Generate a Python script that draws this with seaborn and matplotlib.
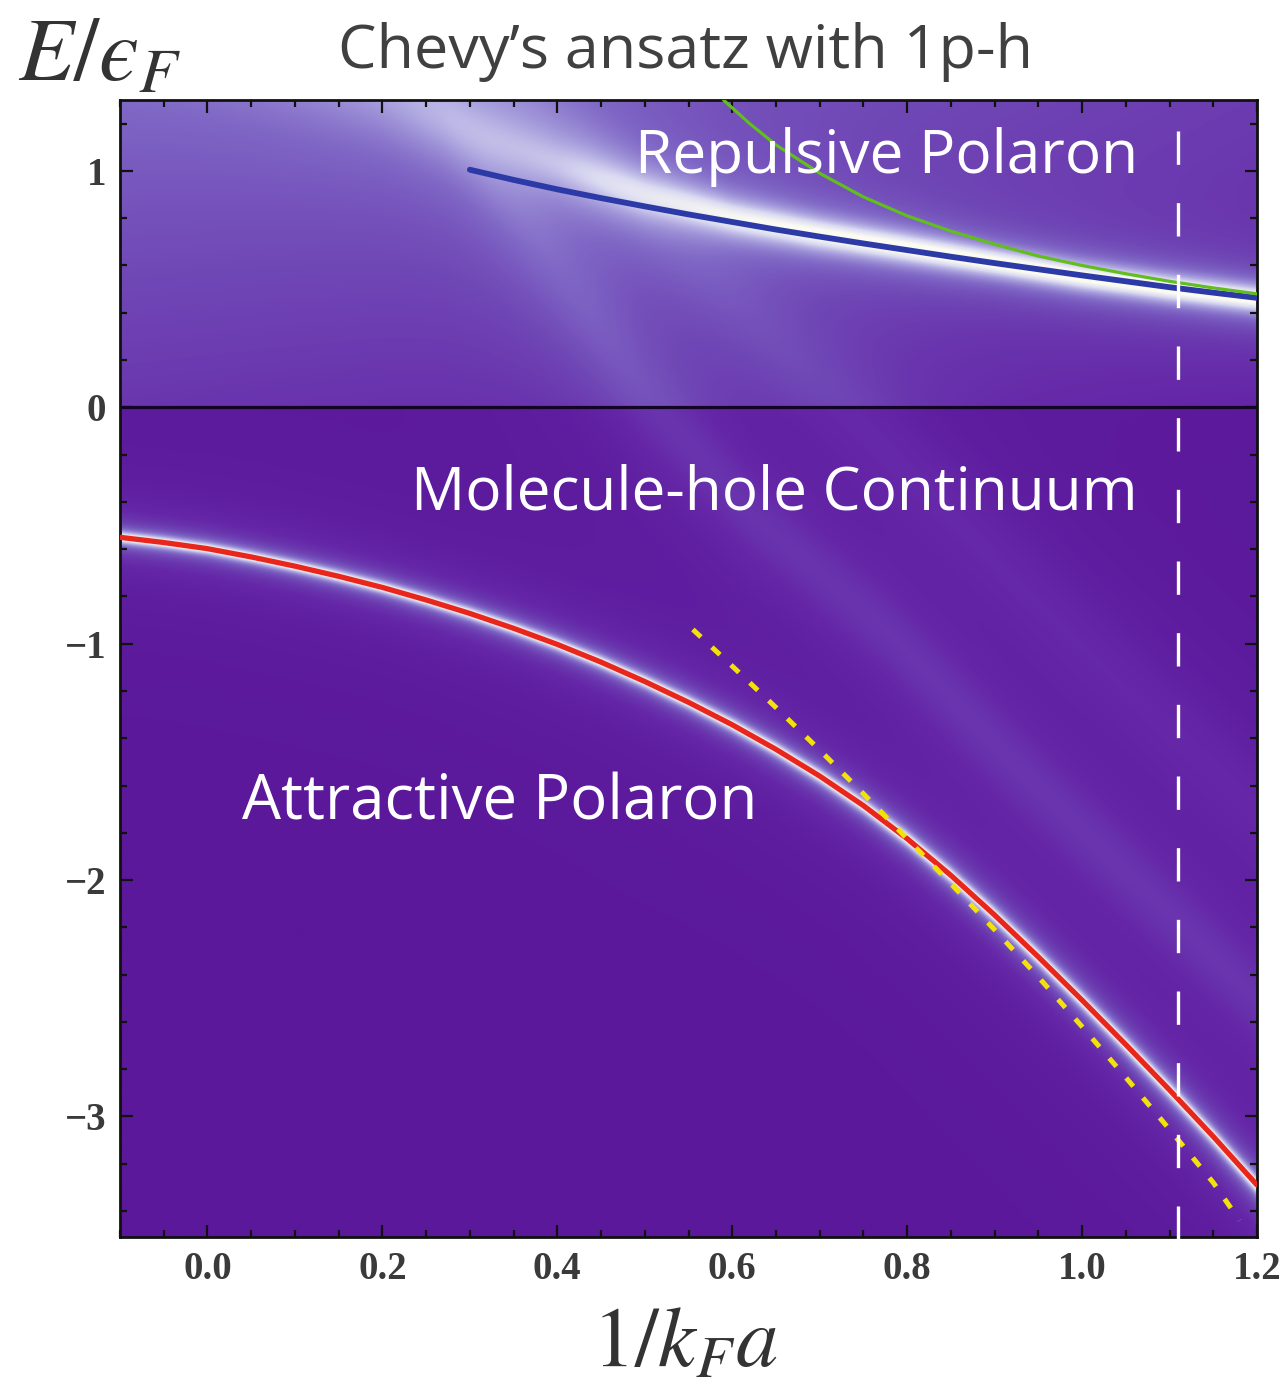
import numpy as np
import pandas as pd
import matplotlib
matplotlib.use("Agg")
import matplotlib.pyplot as plt
from matplotlib.colors import LinearSegmentedColormap
import seaborn as sns

# ---------------- data ----------------
# attractive polaron (red)
att_x = [-0.10, -0.05, 0.00, 0.05, 0.10, 0.15, 0.20, 0.25, 0.30, 0.35, 0.40, 0.45, 0.50, 0.55,
         0.60, 0.65, 0.70, 0.75, 0.80, 0.85, 0.90, 0.95, 1.00, 1.05, 1.10, 1.15, 1.20]
att_E = [-0.550, -0.572, -0.598, -0.633, -0.672, -0.715, -0.762, -0.815, -0.872, -0.935, -1.003,
         -1.078, -1.160, -1.248, -1.343, -1.447, -1.560, -1.685, -1.825, -1.980, -2.148, -2.325,
         -2.508, -2.696, -2.888, -3.085, -3.290]
# molecule energy (yellow dotted)
mol_x = [0.555, 0.60, 0.65, 0.70, 0.75, 0.80, 0.85, 0.90, 0.95, 1.00, 1.05, 1.10, 1.15, 1.18]
mol_E = [-0.94, -1.095, -1.27, -1.45, -1.635, -1.825, -2.015, -2.21, -2.41, -2.62, -2.835,
         -3.055, -3.28, -3.44]
# repulsive polaron (blue)
rep_x = [0.30, 0.35, 0.40, 0.45, 0.50, 0.55, 0.60, 0.65, 0.70, 0.75, 0.80, 0.85, 0.90, 0.95,
         1.00, 1.05, 1.10, 1.15, 1.20]
rep_E = [1.005, 0.962, 0.922, 0.885, 0.850, 0.816, 0.784, 0.752, 0.722, 0.693, 0.665, 0.637,
         0.610, 0.584, 0.558, 0.533, 0.508, 0.485, 0.463]
# perturbative repulsive branch (green)
pert_x = [0.59, 0.62, 0.65, 0.70, 0.75, 0.80, 0.85, 0.90, 0.95, 1.00, 1.05, 1.10, 1.15, 1.20]
pert_E = [1.30, 1.20, 1.11, 0.99, 0.89, 0.81, 0.745, 0.69, 0.64, 0.60, 0.565, 0.533, 0.505, 0.48]
# vertical marker
x_mark = 1.11

# spectral ridges used for the background density
ridge_att_w = 0.022
ridge_att_halo_w = 0.16
ridge_rep_x = [-0.10, 0.00, 0.10, 0.20, 0.30, 0.40, 0.50, 0.60, 0.70, 0.80, 0.90, 1.00, 1.10, 1.20]
ridge_rep_E = [1.75, 1.60, 1.45, 1.32, 1.17, 1.03, 0.90, 0.805, 0.735, 0.675, 0.615, 0.555, 0.505, 0.46]
ridge_rep_w = [0.30, 0.27, 0.24, 0.20, 0.16, 0.12, 0.09, 0.07, 0.06, 0.055, 0.05, 0.05, 0.05, 0.05]
ridge_rep_a = [0.14, 0.15, 0.16, 0.18, 0.23, 0.34, 0.55, 0.75, 0.88, 0.95, 1.00, 1.00, 1.00, 1.00]
ridge_cont_x = [-0.10, 0.15, 0.27, 0.38, 0.50, 0.62, 0.78, 0.92, 1.06, 1.20]
ridge_cont_E = [2.60, 1.65, 1.30, 0.70, 0.05, -0.45, -0.96, -1.50, -2.00, -2.50]
ridge_cont_w = 0.18
ridge_cont_a = 0.13
ridge_cont2_x = [-0.10, 0.70, 0.85, 1.00, 1.20]
ridge_cont2_E = [3.00, 0.10, -0.45, -1.00, -1.70]
ridge_cont2_w = 0.20
ridge_cont2_a = 0.09
base_x = [-0.10, 0.50, 1.20]
base_top = [0.30, 0.24, 0.17]
base_zero = [0.14, 0.11, 0.08]

xlim = (-0.1, 1.2)
ylim = (-3.51, 1.30)

# ---------------- figure ----------------
sns.set_theme(style="white")
plt.rcParams["mathtext.fontset"] = "stix"
W, H = 1283, 1388
fig = plt.figure(figsize=(W / 100, H / 100), dpi=100)
fig.patch.set_facecolor("white")
ax = fig.add_axes([120 / W, 1 - 1237 / H, (1257 - 120) / W, (1237 - 100) / H])

# density field
gx = np.linspace(xlim[0], xlim[1], 700)
gy = np.linspace(ylim[0], ylim[1], 900)
X, Y = np.meshgrid(gx, gy)
sx = 236.5 / 873.75  # pixel aspect (E unit vs x unit)

_k = np.arange(-75, 76)
_kern = np.exp(-0.5 * (_k / 25.0) ** 2)
_kern /= _kern.sum()


def smooth(v):
    p = np.pad(v, 75, mode="edge")
    return np.convolve(p, _kern, mode="same")[75:-75]


def ridge(xs, Es, w, a):
    xs = np.asarray(xs, float); Es = np.asarray(Es, float)
    Ec = np.interp(gx, xs, Es)
    slope = smooth(np.gradient(Ec, gx)) * sx
    wv = np.interp(gx, xs, np.broadcast_to(np.asarray(w, float), xs.shape))
    av = np.interp(gx, xs, np.broadcast_to(np.asarray(a, float), xs.shape))
    d = (Y - Ec[None, :]) / np.sqrt(1 + slope[None, :] ** 2)
    return av[None, :] * wv[None, :] ** 2 / (d ** 2 + wv[None, :] ** 2)


Z = np.zeros_like(X)
bt = np.interp(gx, base_x, base_top)
bz = np.interp(gx, base_x, base_zero)
frac = np.clip(Y / ylim[1], 0, 1)
Z += np.where(Y > 0, bz[None, :] + (bt - bz)[None, :] * frac, 0.0)
Z += ridge(att_x, att_E, ridge_att_w, 1.0)
Z += ridge(att_x, att_E, ridge_att_halo_w, 0.10)
Z += ridge(ridge_rep_x, ridge_rep_E, ridge_rep_w, ridge_rep_a)
Z += ridge(ridge_cont_x, ridge_cont_E, ridge_cont_w, ridge_cont_a)
Z += ridge(ridge_cont2_x, ridge_cont2_E, ridge_cont2_w, ridge_cont2_a)
Z = np.clip(Z, 0, 1)

cmap = LinearSegmentedColormap.from_list(
    "spec",
    [(0.0, "#5b189b"), (0.10, "#6527a8"), (0.22, "#7048b6"), (0.35, "#8068c6"),
     (0.55, "#aaa2de"), (0.75, "#dadaf2"), (1.0, "#fbfbf2")])
ax.imshow(Z, origin="lower", extent=[xlim[0], xlim[1], ylim[0], ylim[1]],
          aspect="auto", cmap=cmap, vmin=0, vmax=1, interpolation="bilinear", zorder=0)

# zero line
ax.axhline(0, color="#120624", lw=2.3, zorder=2)

# curves
sns.lineplot(x=rep_x, y=rep_E, ax=ax, color="#2c3aa8", lw=4.2, sort=False, zorder=4)
sns.lineplot(x=pert_x, y=pert_E, ax=ax, color="#62bd1e", lw=2.3, sort=False, zorder=4)
sns.lineplot(x=att_x, y=att_E, ax=ax, color="#e8261c", lw=3.8, sort=False, zorder=4)
sns.lineplot(x=mol_x, y=mol_E, ax=ax, color="#f2e20a", lw=3.6, sort=False, zorder=5,
             dashes=False, linestyle=(0, (2.2, 3.0)))

# vertical dashed marker
ax.plot([x_mark, x_mark], [1.17, ylim[0] - 0.06], color="white", lw=2.4,
        linestyle=(0, (10, 11.5)), zorder=6, clip_on=False)

ax.set_xlim(*xlim)
ax.set_ylim(*ylim)

# ticks
ax.set_xticks([0.0, 0.2, 0.4, 0.6, 0.8, 1.0, 1.2])
ax.set_xticks(np.arange(-0.1, 1.2001, 0.05), minor=True)
ax.set_yticks([-3, -2, -1, 0, 1])
ax.set_yticks(np.arange(-3.4, 1.3, 0.2), minor=True)
ax.set_xticklabels(["0.0", "0.2", "0.4", "0.6", "0.8", "1.0", "1.2"])
ax.set_yticklabels(["\u22123", "\u22122", "\u22121", "0", "1"])
ax.tick_params(which="both", direction="in", top=True, right=True, bottom=True, left=True,
               color="#111111", width=1.6)
ax.tick_params(which="major", length=9, labelsize=28, labelcolor="#3a3a3a", pad=10)
ax.tick_params(which="minor", length=5)
for lab in ax.get_xticklabels() + ax.get_yticklabels():
    lab.set_family("Liberation Serif")
    lab.set_fontweight("bold")
for sp in ax.spines.values():
    sp.set_color("#111111")
    sp.set_linewidth(2.0)
    sp.set_visible(True)
ax.set_xlabel("")
ax.set_ylabel("")

# annotations
tf = ["Open Sans", "DejaVu Sans"]
ax.text(1.064, 1.057, "Repulsive Polaron", color="white", fontsize=43.5, family=tf,
        ha="right", va="center", zorder=7)
ax.text(1.064, -0.364, "Molecule-hole Continuum", color="white", fontsize=43.5, family=tf,
        ha="right", va="center", zorder=7)
ax.text(0.04, -1.674, "Attractive Polaron", color="white", fontsize=44.5, family=tf,
        ha="left", va="center", zorder=7)

fig.text(685 / W, 1 - 52 / H, "Chevy\u2019s ansatz with 1p-h", color="#404040",
         fontsize=44, family=tf, ha="center", va="center")
fig.text(18 / W, 1 - 55 / H, "$E/\u03f5_F$", color="#333333", fontsize=65,
         ha="left", va="center")
fig.text(685 / W, 1 - 1343 / H, r"$1/k_F a$", color="#333333", fontsize=61,
         ha="center", va="center")

fig.savefig("out.png", dpi=100)
